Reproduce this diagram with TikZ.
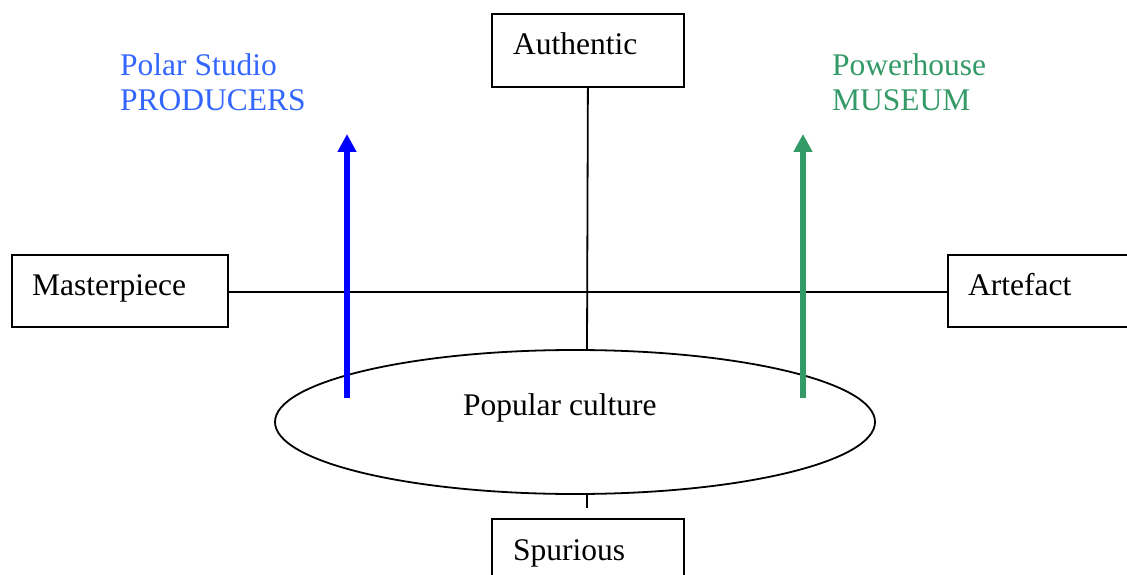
\documentclass[tikz,border=0pt]{standalone}
\usepackage{fontspec}
\setmainfont{Liberation Serif}
\usetikzlibrary{shapes.geometric,arrows.meta}
\definecolor{txtblue}{HTML}{3366FF}
\definecolor{arrblue}{HTML}{0000FF}
\definecolor{mgreen}{HTML}{339966}
\begin{document}
\begin{tikzpicture}[x=1pt,y=-1pt,
  box/.style={draw,line width=1.8pt,anchor=north west,inner sep=0pt},
  lbl/.style={anchor=base west,inner sep=0pt,font=\fontsize{31.5}{36}\selectfont},
  conn/.style={line width=1.8pt},
  bigarrow/.style={line width=6pt,-{Triangle[length=18pt,width=18pt]}}]
\useasboundingbox (0,0) rectangle (1127,575);
\begin{scope}
\clip (0,0) rectangle (1127,575);
\node[box,minimum width=192pt,minimum height=73pt] (auth) at (491,13) {};
\node[box,minimum width=216pt,minimum height=72pt] (mp) at (11,254) {};
\node[box,minimum width=200pt,minimum height=72pt] (art) at (947,254) {};
\node[box,minimum width=192pt,minimum height=73pt] (spur) at (491,518) {};
\node[draw,ellipse,line width=1.8pt,minimum width=600pt,minimum height=144pt,inner sep=0pt] (pc) at (575,422) {};
\end{scope}
\node[lbl] (tauth) at (513,55) {Authentic};
\node[lbl] (tmp) at (32,295) {Masterpiece};
\node[lbl] (tart) at (968,295) {Artefact};
\node[lbl] (tspur) at (513,560) {Spurious};
\node[lbl] (tpc) at (463,415) {Popular culture};
\node[lbl,text=txtblue] (polar) at (120,76) {Polar Studio};
\node[lbl,text=txtblue] (prod) at (120,111) {PRODUCERS};
\node[lbl,text=mgreen] (power) at (832,76) {Powerhouse};
\node[lbl,text=mgreen] (mus) at (832,111) {MUSEUM};
\coordinate (htop) at (587,350);
\coordinate (hbot) at (587,494);
\coordinate (htick) at (587,508);
\coordinate (hl) at (227,292);
\coordinate (hr) at (947,292);
\draw[conn] (auth.south) -- (htop);
\draw[conn] (hbot) -- (htick);
\draw[conn] (hl) -- (hr);
\coordinate (ba0) at (347,398);
\coordinate (ba1) at (347,134);
\coordinate (ga0) at (803,398);
\coordinate (ga1) at (803,134);
\draw[bigarrow,arrblue] (ba0) -- (ba1);
\draw[bigarrow,mgreen] (ga0) -- (ga1);
\end{tikzpicture}
\end{document}
